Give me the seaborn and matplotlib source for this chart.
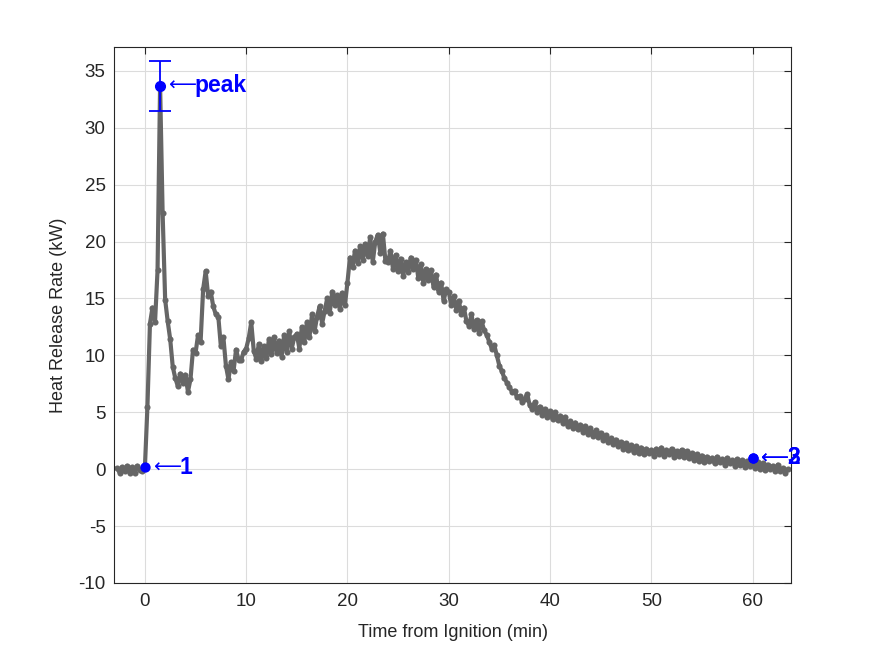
import matplotlib
matplotlib.use("Agg")
import matplotlib.pyplot as plt
import numpy as np
import pandas as pd
import seaborn as sns

# Heat release rate sampled every 0.25 min, starting at -2.75 min
t_start = -2.75
t_step = 0.25
hrr = [
    0.1, -0.3, 0.2,
    -0.2, 0.3, -0.3, 0.2,
    -0.3, 0.3, -0.1, -0.2,
    0.15, 5.5, 12.8, 14.2,
    12.9, 17.5, 33.7, 22.5,
    14.9, 13.0, 11.4, 9.0,
    8.0, 7.3, 8.4, 7.6,
    8.3, 6.8, 7.9, 10.5,
    10.2, 11.8, 11.2, 15.8,
    17.4, 15.2, 15.6, 14.3,
    13.6, 13.4, 10.8, 11.6,
    9.1, 7.9, 9.4, 8.6,
    10.5, 9.6, 9.6, 10.3,
    10.6, 11.5, 12.9, 10.4,
    9.7, 11.0, 9.5, 10.8,
    9.8, 11.4, 10.1, 11.6,
    10.2, 11.3, 9.9, 11.8,
    10.3, 12.1, 10.6, 11.6,
    11.9, 10.6, 12.5, 11.2,
    12.9, 11.6, 13.6, 12.1,
    13.4, 14.3, 12.8, 13.9,
    15.0, 13.7, 15.6, 14.4,
    15.3, 14.1, 15.5, 14.4,
    16.4, 18.6, 17.8, 19.2,
    18.1, 19.6, 18.4, 19.8,
    18.7, 20.4, 18.2, 20.0,
    20.6, 19.0, 20.7, 18.3,
    18.2, 19.2, 17.6, 18.8,
    17.4, 18.5, 17.0, 18.2,
    17.3, 18.6, 17.6, 18.4,
    16.8, 18.0, 16.4, 17.6,
    16.6, 17.5, 16.0, 17.1,
    15.6, 16.4, 14.8, 15.8,
    15.6, 14.4, 15.2, 14.0,
    14.8, 13.6, 14.2, 13.0,
    12.6, 13.6, 12.3, 13.1,
    12.0, 13.0, 12.2, 11.8,
    11.2, 10.6, 10.9, 10.0,
    9.1, 8.6, 8.0, 7.6,
    7.2, 6.8, 6.9, 6.3,
    6.4, 5.9, 6.2, 6.6,
    5.6, 5.3, 5.9, 5.0,
    5.5, 4.8, 5.3, 4.6,
    5.1, 4.4, 5.0, 4.3,
    4.7, 4.1, 4.6, 3.8,
    4.2, 3.6, 4.1, 3.5,
    3.9, 3.3, 3.8, 3.1,
    3.6, 2.9, 3.4, 2.8,
    3.2, 2.6, 3.0, 2.4,
    2.7, 2.2, 2.6, 2.0,
    2.4, 1.8, 2.3, 1.7,
    2.1, 1.5, 2.0, 1.4,
    1.9, 1.3, 1.8, 1.4,
    1.7, 1.2, 1.8, 1.3,
    1.9, 1.2, 1.7, 1.3,
    1.8, 1.1, 1.6, 1.2,
    1.7, 1.1, 1.6, 1.0,
    1.4, 0.8, 1.3, 0.7,
    1.2, 0.6, 1.1, 0.7,
    1.0, 0.5, 1.1, 0.6,
    0.9, 0.4, 1.0, 0.5,
    0.8, 0.3, 0.9, 0.4,
    0.8, 0.2, 0.7, 0.3,
    0.6, 0.1, 0.6, 0.0,
    0.5, -0.1, 0.4, 0.0,
    0.3, -0.2, 0.4, -0.2,
    0.1, -0.3, 0.0,
]

# Marked points
mark_t = [0.0, 60.0, 60.0]
mark_hrr = [0.15, 1.0, 1.0]
mark_labels = ["1", "2", "3"]

peak_t = 1.5
peak_hrr = 33.7
peak_err = 2.2
peak_label = "peak"

xticks = [0, 10, 20, 30, 40, 50, 60]
yticks = [-10, -5, 0, 5, 10, 15, 20, 25, 30, 35]

sns.set_style("white")
plt.rcParams["font.family"] = ["Liberation Sans", "DejaVu Sans"]
plt.rcParams["axes.unicode_minus"] = False

time = t_start + t_step * np.arange(len(hrr))
df = pd.DataFrame({"time": time, "hrr": hrr})

fig = plt.figure(figsize=(8.75, 6.56), dpi=100)
ax = fig.add_axes([0.1303, 0.1113, 0.7737, 0.8171])

ax.grid(True, color="#dcdcdc", linewidth=0.8)
ax.set_axisbelow(True)

sns.lineplot(data=df, x="time", y="hrr", color="#666666", linewidth=3.0,
             marker="o", markersize=4.4, markeredgewidth=0, estimator=None,
             sort=False, ax=ax)


def label_point(x, y, text):
    # thin arrow followed by the bold label, like "\leftarrow text"
    ax.annotate("\u27f5", (x, y), xytext=(5.5, 0), textcoords="offset points",
                va="center", ha="left", color="blue", fontsize=14,
                family="DejaVu Sans")
    ax.annotate(text, (x, y), xytext=(25, 0), textcoords="offset points",
                va="center", ha="left", color="blue", fontweight="bold",
                fontsize=16.5)


# peak with error bar
ax.errorbar(peak_t, peak_hrr, yerr=peak_err, fmt="o", color="blue",
            markersize=7, capsize=8, elinewidth=1.3, capthick=1.3, zorder=5)
label_point(peak_t, peak_hrr, peak_label)

sns.scatterplot(x=mark_t, y=mark_hrr, color="blue", s=55, linewidth=0,
                zorder=5, ax=ax)
for tx, ty, lbl in zip(mark_t, mark_hrr, mark_labels):
    label_point(tx, ty, lbl)

ax.set_xlim(-3.05, 63.8)
ax.set_ylim(-10, 37.1)
ax.set_xticks(xticks)
ax.set_yticks(yticks)
ax.tick_params(direction="in", length=5, width=0.8, colors="#262626",
               labelsize=13.5, top=True, right=True)
ax.tick_params(axis="x", pad=7)
ax.tick_params(axis="y", pad=6)
for s in ax.spines.values():
    s.set_color("#262626")
    s.set_linewidth(0.8)

ax.set_xlabel("Time from Ignition (min)", fontsize=13, color="#262626",
              labelpad=10)
ax.set_ylabel("Heat Release Rate (kW)", fontsize=13, color="#262626",
              labelpad=8)

fig.savefig("out.png", dpi=100)
